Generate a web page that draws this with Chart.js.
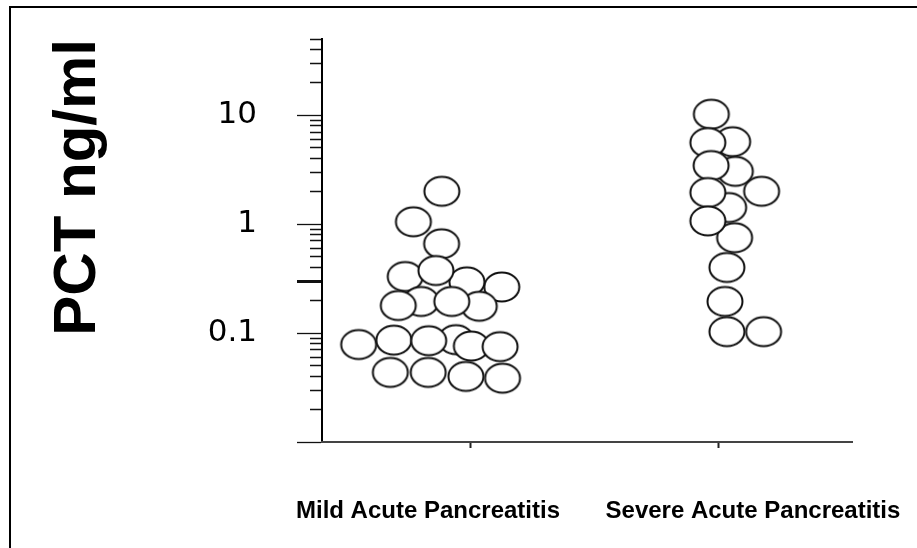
<!DOCTYPE html>
<html lang="en">
<head>
    <meta charset="UTF-8">
    <title>PCT ng/ml</title>
    <script src="https://cdn.jsdelivr.net/npm/chart.js@4.4.1/dist/chart.umd.min.js"></script>
    <style>
        body {
            margin: 0;
            background: #fff;
        }
        .wrap {
            position: relative;
            width: 917px;
            height: 548px;
        }
        .frame {
            position: absolute;
            left: 9px;
            top: 6px;
            right: 0;
            bottom: 0;
            border-top: 2px solid #000;
            border-left: 2px solid #000;
            pointer-events: none;
        }
    </style>
</head>
<body>
    <div class="wrap">
        <canvas id="myChart" width="917" height="548"></canvas>
        <div class="frame"></div>
    </div>

<script>
// groups on the x axis
const categories = ['Mild Acute Pancreatitis', 'Severe Acute Pancreatitis'];

// PCT values (ng/ml) and horizontal scatter position of each circle
const mildPCT = [2.0, 1.05, 0.66, 0.33, 0.265, 0.295, 0.375, 0.195, 0.176, 0.179, 0.195,
                 0.087, 0.0785, 0.086, 0.085, 0.076, 0.075, 0.0435, 0.0435, 0.040, 0.0385];
const mildPos = [0.884, 0.769, 0.883, 0.736, 1.126, 0.985, 0.86, 0.80, 1.035, 0.708, 0.924,
                 0.941, 0.548, 0.69, 0.831, 1.003, 1.119, 0.676, 0.829, 0.981, 1.129];

const severePCT = [5.7, 3.05, 1.42, 0.75, 2.0, 10.2, 5.6, 3.45, 1.95, 1.07, 0.40, 0.195, 0.103, 0.103];
const severePos = [2.058, 2.069, 2.042, 2.066, 2.175, 1.972, 1.958, 1.971, 1.958, 1.958, 2.035, 2.027, 2.035, 2.183];

// y axis tick marks (log scale) and which of them carry a label
const yTicks = [0.01, 0.02, 0.03, 0.04, 0.05, 0.06, 0.07, 0.08, 0.09,
                0.1, 0.2, 0.3, 0.4, 0.5, 0.6, 0.7, 0.8, 0.9,
                1, 2, 3, 4, 5, 6, 7, 8, 9,
                10, 20, 30, 40, 50];
const yLabels = [0.1, 1, 10];
const yLongTicks = [0.01, 0.1, 0.3, 1, 10];

// open circle marker (slightly wide, like the scanned figure)
function makeCircle() {
    const c = document.createElement('canvas');
    c.width = 40;
    c.height = 34;
    const g = c.getContext('2d');
    g.beginPath();
    g.ellipse(20, 17, 17.5, 14.5, 0, 0, Math.PI * 2);
    g.fillStyle = '#fff';
    g.fill();
    g.lineWidth = 2;
    g.strokeStyle = '#111';
    g.stroke();
    return c;
}
const circle = makeCircle();

function toPoints(pos, vals) {
    return vals.map((v, i) => ({ x: pos[i], y: v }));
}

const sans = "'Liberation Sans', Arial, sans-serif";

new Chart('myChart', {
    type: 'scatter',
    data: {
        datasets: [
            { label: categories[0], data: toPoints(mildPos, mildPCT), pointStyle: circle, pointRadius: 17 },
            { label: categories[1], data: toPoints(severePos, severePCT), pointStyle: circle, pointRadius: 17 }
        ]
    },
    options: {
        responsive: false,
        animation: false,
        clip: false,
        layout: { padding: { top: 39, left: 10, right: 65, bottom: 0 } },
        plugins: {
            legend: { display: false },
            tooltip: { enabled: false }
        },
        scales: {
            y: {
                type: 'logarithmic',
                position: 'left',
                min: 0.01,
                max: 50,
                afterBuildTicks: s => { s.ticks = yTicks.map(v => ({ value: v })); },
                afterFit: s => {
                    s.width = 312;
                    s.paddingTop = 0;
                    s.paddingBottom = 0;
                },
                border: { display: true, color: '#000', width: 2 },
                grid: {
                    display: true,
                    drawOnChartArea: false,
                    tickLength: 25,
                    tickColor: '#111',
                    tickWidth: ctx => ctx.tick && ctx.tick.value === 0.3 ? 3 : 1.3,
                    tickBorderDash: ctx => (ctx.tick && yLongTicks.includes(ctx.tick.value)) ? [] : [0, 13, 40]
                },
                ticks: {
                    autoSkip: false,
                    padding: 40,
                    color: '#000',
                    font: { family: "'DejaVu Sans', sans-serif", size: 31 },
                    callback: v => yLabels.includes(v) ? String(v) : ''
                },
                title: {
                    display: true,
                    text: 'PCT ng/ml',
                    align: 'end',
                    color: '#000',
                    padding: { top: 32, bottom: 0 },
                    font: { family: sans, size: 60, weight: 'bold' }
                }
            },
            x: {
                type: 'linear',
                position: 'bottom',
                weight: 0,
                min: 0.4,
                max: 2.54,
                afterBuildTicks: s => { s.ticks = categories.map((c, i) => ({ value: i + 1 })); },
                afterFit: s => {
                    s.height = 6;
                    s.paddingLeft = 0;
                    s.paddingRight = 0;
                },
                border: { display: true, color: '#444', width: 2, dash: [0, 22, 2000] },
                grid: {
                    display: true,
                    drawOnChartArea: false,
                    tickLength: 6,
                    tickColor: '#222',
                    tickWidth: 2
                },
                ticks: { display: false }
            },
            x2: {
                type: 'linear',
                position: 'bottom',
                weight: 1,
                min: 0.4,
                max: 2.54,
                afterBuildTicks: s => { s.ticks = [{ value: 0.828 }, { value: 2.14 }]; },
                afterFit: s => {
                    s.height = 100;
                    s.paddingLeft = 0;
                    s.paddingRight = 0;
                },
                border: { display: false },
                grid: { display: false, drawTicks: false },
                ticks: {
                    autoSkip: false,
                    maxRotation: 0,
                    minRotation: 0,
                    padding: 49,
                    color: '#000',
                    font: { family: sans, size: 24, weight: 'bold' },
                    callback: (v, i) => categories[i]
                }
            }
        }
    }
});
</script>
</body>
</html>
